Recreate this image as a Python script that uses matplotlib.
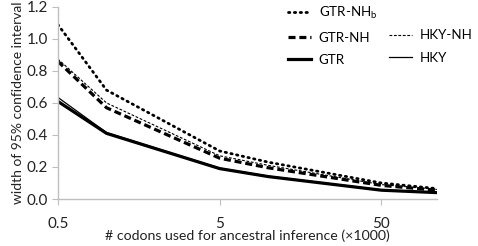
import matplotlib
matplotlib.use("Agg")
import matplotlib.pyplot as plt
from matplotlib.lines import Line2D

# thousands of codons
codons = [0.5, 1, 5, 10, 50, 110]

gtr_nhb = [1.09, 0.68, 0.30, 0.23, 0.10, 0.065]
gtr_nh = [0.86, 0.57, 0.255, 0.195, 0.085, 0.055]
hky_nh = [0.875, 0.60, 0.27, 0.21, 0.09, 0.06]
gtr = [0.61, 0.41, 0.19, 0.14, 0.055, 0.04]
hky = [0.635, 0.415, 0.193, 0.143, 0.057, 0.042]

x_ticks = [0.5, 5, 50]
x_ticklabels = ["0.5", "5", "50"]
y_ticks = [0.0, 0.2, 0.4, 0.6, 0.8, 1.0, 1.2]

plt.rcParams["font.family"] = ["Lato", "DejaVu Sans"]

fig = plt.figure(figsize=(4.78, 2.46), dpi=100)
ax = fig.add_axes([0.121, 0.191, 0.793, 0.781])

ax.plot(codons, hky, color="black", lw=0.9)
ax.plot(codons, hky_nh, color="black", lw=0.8, dashes=(2.5, 1.5))
ax.plot(codons, gtr, color="black", lw=2.3)
ax.plot(codons, gtr_nh, color="black", lw=2.3, dashes=(2.2, 1.2))
ax.plot(codons, gtr_nhb, color="black", lw=2.0, linestyle=(0, (0.5, 1.6)),
        dash_capstyle="round")

ax.set_xscale("log")
ax.set_xlim(0.5, 110)
ax.set_ylim(0, 1.2)
ax.set_xticks(x_ticks)
ax.set_xticklabels(x_ticklabels)
ax.minorticks_off()
ax.set_yticks(y_ticks)
ax.set_yticklabels([f"{v:.1f}" for v in y_ticks])

for s in ["top", "right"]:
    ax.spines[s].set_visible(False)
for s in ["left", "bottom"]:
    ax.spines[s].set_color("#bfbfbf")
    ax.spines[s].set_linewidth(1.0)
ax.tick_params(axis="both", colors="#bfbfbf", length=4, labelsize=11,
               labelcolor="#222222")
ax.tick_params(axis="x", pad=9)
ax.tick_params(axis="y", pad=3)

ax.set_ylabel("width of 95% confidence interval", fontsize=10, color="#222222",
              labelpad=2)
ax.set_xlabel("# codons used for ancestral inference (\u00d71000)", fontsize=10.2,
              color="#222222", labelpad=-1)

blank = Line2D([], [], linestyle="none")
handles = [
    Line2D([], [], color="black", lw=2.0, linestyle=(0, (0.5, 1.6)), dash_capstyle="round"),
    Line2D([], [], color="black", lw=2.3, dashes=(2.2, 1.2)),
    Line2D([], [], color="black", lw=2.3),
    blank,
    Line2D([], [], color="black", lw=0.8, dashes=(2.5, 1.5)),
    Line2D([], [], color="black", lw=0.9),
]
labels = ["GTR-NH$_\\mathregular{b}$", "GTR-NH", "GTR", "", "HKY-NH", "HKY"]
ax.legend(handles, labels, ncol=2, frameon=False, fontsize=9.6,
          loc="upper left", bbox_to_anchor=(288 / 478, 1 - 5 / 246),
          bbox_transform=fig.transFigure, borderpad=0, borderaxespad=0,
          handlelength=1.75, handletextpad=0.55, columnspacing=0.9,
          labelspacing=0.78)

fig.savefig("out.png", dpi=100)
